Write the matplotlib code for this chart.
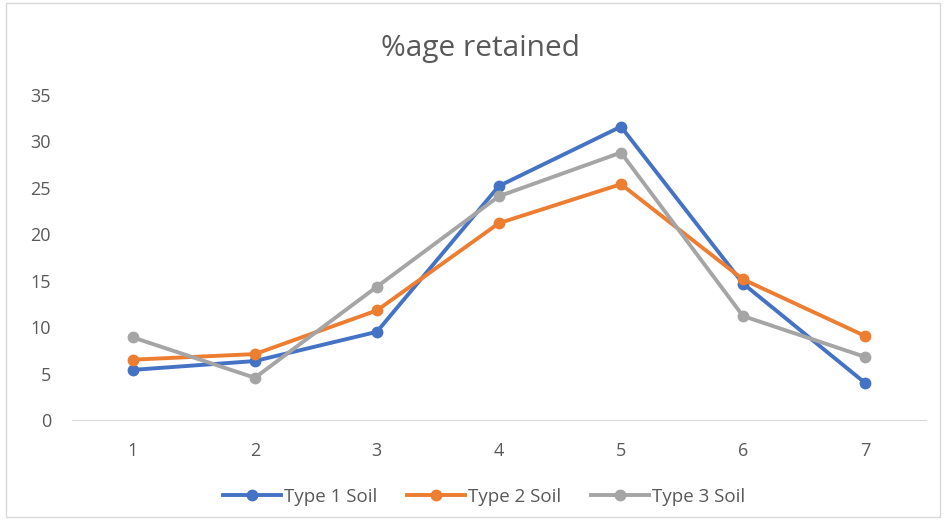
import matplotlib
matplotlib.use('Agg')

import matplotlib.pyplot as plt
from matplotlib.patches import Rectangle

# data
x_labels = ['1', '2', '3', '4', '5', '6', '7']
type1 = [5.4, 6.35, 9.5, 25.2, 31.6, 14.7, 4.0]
type2 = [6.5, 7.1, 11.8, 21.2, 25.4, 15.15, 9.05]
type3 = [8.9, 4.55, 14.35, 24.1, 28.8, 11.2, 6.8]
series_names = ['Type 1 Soil', 'Type 2 Soil', 'Type 3 Soil']
colors = ['#4472C4', '#ED7D31', '#A5A5A5']

plt.rcParams['font.family'] = ['Open Sans', 'DejaVu Sans']

fig = plt.figure(figsize=(9.44, 5.28), dpi=100)
ax = fig.add_axes([0.076, 0.2045, 0.905, 0.6155])

x = list(range(len(x_labels)))
for vals, name, c in zip([type1, type2, type3], series_names, colors):
    ax.plot(x, vals, color=c, linewidth=2.8, marker='o', markersize=7.5, label=name)

ax.set_xlim(-0.5, len(x_labels) - 0.5)
ax.set_ylim(0, 35)
ax.set_yticks(range(0, 36, 5))
ax.set_xticks(x)
ax.set_xticklabels(x_labels)

for side in ['top', 'right', 'left']:
    ax.spines[side].set_visible(False)
ax.spines['bottom'].set_color('#D9D9D9')
ax.tick_params(axis='both', length=0, colors='#595959', labelsize=13)
ax.tick_params(axis='x', pad=16)
ax.tick_params(axis='y', pad=15)

fig.text(0.509, 0.909, '%age retained', ha='center', va='center',
         fontsize=21.5, color='#595959')

fig.legend(loc='center', bbox_to_anchor=(0.513, 0.059), ncol=3, frameon=False,
           fontsize=13.5, labelcolor='#595959', handlelength=3.1,
           handletextpad=0.15, columnspacing=1.6)

fig.patches.append(Rectangle((0.006, 0.02), 0.99, 0.975, transform=fig.transFigure,
                             fill=False, edgecolor='#D9D9D9', linewidth=1))

fig.savefig('out.png', dpi=100)
